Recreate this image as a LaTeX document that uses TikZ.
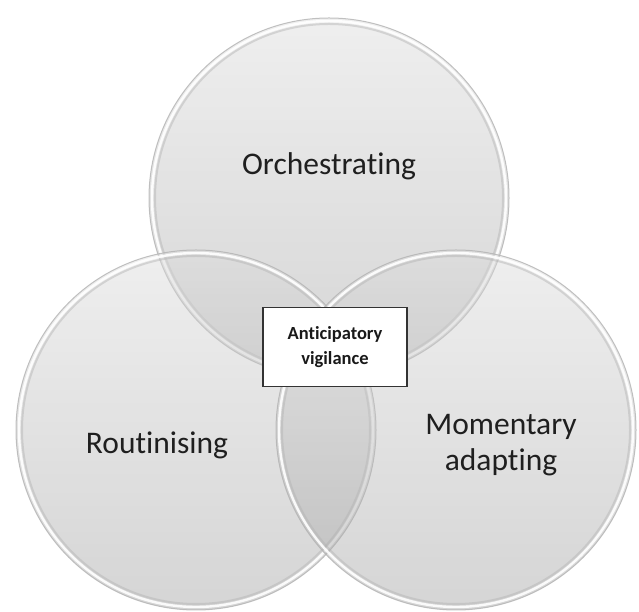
\documentclass[tikz,border=0pt]{standalone}
\usepackage{fontspec}
\setmainfont{Carlito}[Ligatures={NoCommon}]
\tikzset{
  disc/.style={top color=black!14, bottom color=black!36, fill opacity=0.46, draw=none},
  rimout/.style={draw=black!30, line width=1pt, opacity=0.8},
  rimhi/.style={draw=white, line width=2.4pt, opacity=0.9},
  rimin/.style={draw=black!30, line width=2pt, opacity=0.45},
  lbl/.style={text=black!88, font=\fontsize{31.5}{36}\selectfont, align=center, inner sep=0pt},
  centrebox/.style={draw=black!80, line width=1.1pt, fill=white, minimum width=144pt,
    minimum height=79pt, align=center, text=black!90,
    font=\bfseries\fontsize{18.5}{25}\selectfont}
}
\begin{document}
\begin{tikzpicture}[x=1pt,y=1pt]
\useasboundingbox (0,0) rectangle (639,612);
% circle centres
\coordinate (orch) at (329,414);
\coordinate (rout) at (196,182);
\coordinate (adapt) at (456,182);
\foreach \c in {orch,rout,adapt}{
  \shade[disc] (\c) circle (180pt);
  \draw[rimout] (\c) circle (180pt);
  \draw[rimhi] (\c) circle (177pt);
  \draw[rimin] (\c) circle (174pt);
}
% labels
\node[lbl] (orchlbl) at (329,446) {Orchestrating};
\node[lbl] (routlbl) at (157,167) {Routinising};
\node[lbl] (adaptlbl) at (501,167) {Momentary\\adapting};
\node[centrebox] (vigil) at (335,265) {Anticipatory\\vigilance};
\end{tikzpicture}
\end{document}
